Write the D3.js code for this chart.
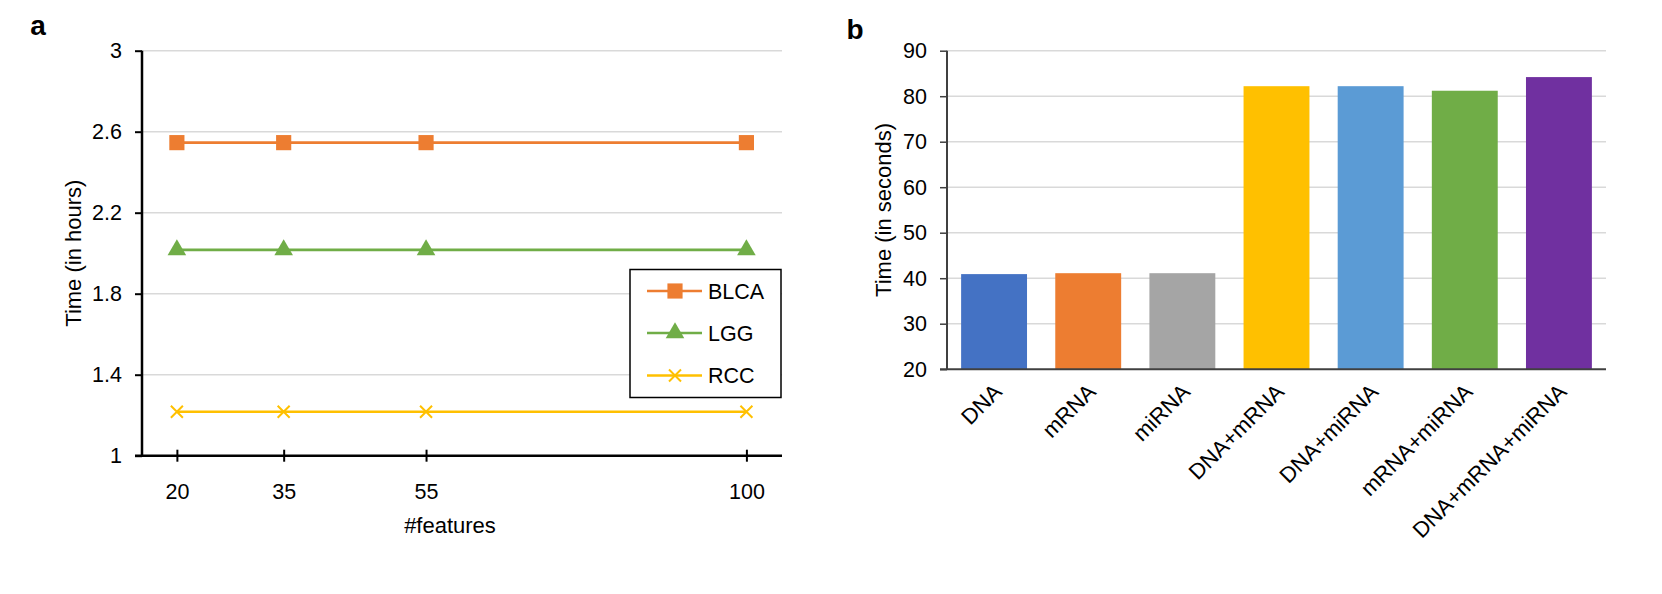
<!DOCTYPE html>
<html>
<head>
<meta charset="utf-8">
<script src="https://cdn.jsdelivr.net/npm/d3@7"></script>
<style>
  html, body { margin: 0; padding: 0; background: #fff; }
  svg { display: block; font-family: "Liberation Sans", Arial, sans-serif; }
</style>
</head>
<body>
<svg id="chart" width="1662" height="594"></svg>
<script>
// ---- Panel a data ----
const featureCounts = [20, 35, 55, 100];
const seriesNames = ["BLCA", "LGG", "RCC"];
const blcaHours = [2.546, 2.546, 2.546, 2.546];
const lggHours = [2.016, 2.016, 2.016, 2.016];
const rccHours = [1.217, 1.217, 1.217, 1.217];
const hourTicks = [1, 1.4, 1.8, 2.2, 2.6, 3];
const seriesColors = ["#ED7D31", "#70AD47", "#FFC000"];

// ---- Panel b data ----
const omicsCombos = ["DNA", "mRNA", "miRNA", "DNA+mRNA", "DNA+miRNA", "mRNA+miRNA", "DNA+mRNA+miRNA"];
const comboSeconds = [40.9, 41.1, 41.1, 82.2, 82.2, 81.2, 84.2];
const secondTicks = [20, 30, 40, 50, 60, 70, 80, 90];
const comboColors = ["#4472C4", "#ED7D31", "#A5A5A5", "#FFC000", "#5B9BD5", "#70AD47", "#7030A0"];

const svg = d3.select("#chart");
const FS = 21.5;

// ================= Panel a =================
const a = { left: 142, right: 782, top: 50.7, bottom: 455.7 };
const xA = d3.scaleLinear().domain([15.1, 105]).range([a.left, a.right]);
const yA = d3.scaleLinear().domain([1, 3]).range([a.bottom, a.top]);
const gA = svg.append("g");

// gridlines
gA.append("g").selectAll("line").data(hourTicks.filter(t => t > 1)).join("line")
  .attr("x1", a.left).attr("x2", a.right)
  .attr("y1", d => yA(d)).attr("y2", d => yA(d))
  .attr("stroke", "#d9d9d9").attr("stroke-width", 1.5);

// y axis
const yAxisA = gA.append("g").attr("transform", `translate(${a.left},0)`)
  .call(d3.axisLeft(yA).tickValues(hourTicks).tickSize(7).tickPadding(13).tickFormat(d3.format("")));
yAxisA.select(".domain").attr("stroke", "#000").attr("stroke-width", 2.5).attr("d", `M0,${a.top}V${a.bottom}`);
yAxisA.selectAll(".tick line").attr("stroke", "#000").attr("stroke-width", 2);
yAxisA.selectAll("text").attr("font-size", FS).attr("fill", "#000").attr("font-family", "Liberation Sans, Arial, sans-serif");

// x axis
const xAxisA = gA.append("g").attr("transform", `translate(0,${a.bottom})`)
  .call(d3.axisBottom(xA).tickValues(featureCounts).tickSize(6).tickPadding(22).tickSizeOuter(0));
xAxisA.select(".domain").attr("stroke", "#000").attr("stroke-width", 2.5).attr("d", `M${a.left - 7},0H${a.right}`);
xAxisA.selectAll(".tick line").attr("stroke", "#000").attr("stroke-width", 2).attr("y1", -6).attr("y2", 6);
xAxisA.selectAll("text").attr("font-size", FS).attr("fill", "#000").attr("font-family", "Liberation Sans, Arial, sans-serif");

// titles
gA.append("text").attr("x", 38).attr("y", 35).attr("text-anchor", "middle")
  .attr("font-size", 28).attr("font-weight", "bold").text("a");
gA.append("text").attr("transform", `translate(81,${(a.top + a.bottom) / 2}) rotate(-90)`)
  .attr("text-anchor", "middle").attr("font-size", 22).text("Time (in hours)");
gA.append("text").attr("x", (a.left + a.right) / 2 - 12).attr("y", 533).attr("text-anchor", "middle")
  .attr("font-size", 22).text("#features");

// series
const seriesData = [blcaHours, lggHours, rccHours];
const line = d3.line().x((d, i) => xA(featureCounts[i])).y(d => yA(d));
const markerShapes = [d3.symbolSquare, d3.symbolTriangle, null];

function drawMarker(g, shape, color, cx, cy) {
  if (shape === null) {
    const s = 6;
    g.append("path").attr("d", `M${cx - s},${cy - s}L${cx + s},${cy + s}M${cx - s},${cy + s}L${cx + s},${cy - s}`)
      .attr("stroke", color).attr("stroke-width", 2).attr("fill", "none");
  } else {
    const size = shape === d3.symbolSquare ? 230 : 150;
    g.append("path").attr("d", d3.symbol().type(shape).size(size)())
      .attr("transform", `translate(${cx},${cy})`).attr("fill", color);
  }
}

seriesData.forEach((vals, si) => {
  const g = gA.append("g");
  g.append("path").datum(vals).attr("d", line).attr("fill", "none")
    .attr("stroke", seriesColors[si]).attr("stroke-width", 2.7);
  vals.forEach((v, i) => drawMarker(g, markerShapes[si], seriesColors[si], xA(featureCounts[i]), yA(v)));
});

// legend
const leg = gA.append("g");
leg.append("rect").attr("x", 630).attr("y", 269.5).attr("width", 151).attr("height", 128)
  .attr("fill", "#fff").attr("stroke", "#000").attr("stroke-width", 1.5);
const legY = [291, 333, 375.5];
seriesNames.forEach((name, i) => {
  leg.append("line").attr("x1", 647).attr("x2", 702).attr("y1", legY[i]).attr("y2", legY[i])
    .attr("stroke", seriesColors[i]).attr("stroke-width", 2.7);
  drawMarker(leg, markerShapes[i], seriesColors[i], 675, legY[i]);
  leg.append("text").attr("x", 708).attr("y", legY[i]).attr("dy", "0.35em")
    .attr("font-size", FS).text(name);
});

// ================= Panel b =================
const b = { left: 947, right: 1606, top: 50.7, bottom: 369.2 };
const xB = d3.scaleBand().domain(omicsCombos).range([b.left, b.right]).paddingInner(0.3).paddingOuter(0.15);
const yB = d3.scaleLinear().domain([20, 90]).range([b.bottom, b.top]);
const gB = svg.append("g");

gB.append("g").selectAll("line").data(secondTicks.filter(t => t > 20)).join("line")
  .attr("x1", b.left).attr("x2", b.right)
  .attr("y1", d => yB(d)).attr("y2", d => yB(d))
  .attr("stroke", "#d9d9d9").attr("stroke-width", 1.5);

gB.append("g").selectAll("rect").data(omicsCombos).join("rect")
  .attr("x", d => xB(d)).attr("width", xB.bandwidth())
  .attr("y", (d, i) => yB(comboSeconds[i]))
  .attr("height", (d, i) => yB(20) - yB(comboSeconds[i]))
  .attr("fill", (d, i) => comboColors[i]);

const yAxisB = gB.append("g").attr("transform", `translate(${b.left},0)`)
  .call(d3.axisLeft(yB).tickValues(secondTicks).tickSize(7).tickPadding(13));
yAxisB.select(".domain").attr("stroke", "#404040").attr("stroke-width", 2).attr("d", `M0,${b.top}V${b.bottom}`);
yAxisB.selectAll(".tick line").attr("stroke", "#404040").attr("stroke-width", 1.5);
yAxisB.selectAll("text").attr("font-size", FS).attr("fill", "#000").attr("font-family", "Liberation Sans, Arial, sans-serif");

const xAxisB = gB.append("g").attr("transform", `translate(0,${b.bottom})`)
  .call(d3.axisBottom(xB).tickSize(0).tickSizeOuter(0));
xAxisB.select(".domain").attr("stroke", "#404040").attr("stroke-width", 2).attr("d", `M${b.left - 7},0H${b.right}`);
xAxisB.selectAll(".tick text")
  .attr("font-size", 22).attr("fill", "#000").attr("font-family", "Liberation Sans, Arial, sans-serif")
  .attr("text-anchor", "end").attr("dy", 0).attr("y", 0)
  .attr("transform", "translate(9,24) rotate(-45)");

gB.append("text").attr("x", 855).attr("y", 39).attr("text-anchor", "middle")
  .attr("font-size", 28).attr("font-weight", "bold").text("b");
gB.append("text").attr("transform", `translate(891,${(b.top + b.bottom) / 2}) rotate(-90)`)
  .attr("text-anchor", "middle").attr("font-size", 22).text("Time (in seconds)");
</script>
</body>
</html>
